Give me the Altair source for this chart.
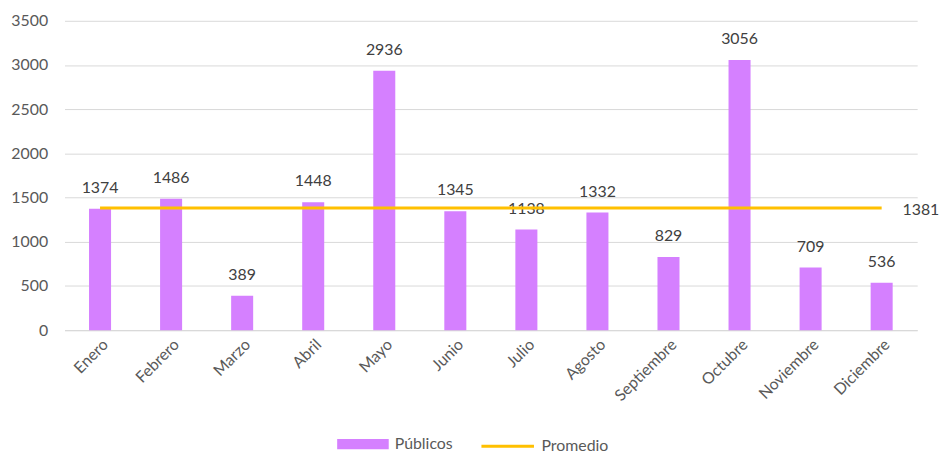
import altair as alt
import pandas as pd

months = ["Enero", "Febrero", "Marzo", "Abril", "Mayo", "Junio", "Julio",
          "Agosto", "Septiembre", "Octubre", "Noviembre", "Diciembre"]
publicos = [1374, 1486, 389, 1448, 2936, 1345, 1138, 1332, 829, 3056, 709, 536]
promedio = [1381, 1381, 1381, 1381, 1381, 1381, 1381, 1381, 1381, 1381, 1381, 1381]
y_ticks = [0, 500, 1000, 1500, 2000, 2500, 3000, 3500]

df = pd.DataFrame({
    "Mes": months,
    "Publicos": publicos,
    "Promedio": promedio,
    "sb": ["Públicos"] * len(months),
    "sl": ["Promedio"] * len(months),
})
last = df.iloc[[-1]]

FONT = "Lato"
FS = 16

x_axis = alt.Axis(labelAngle=-45, ticks=False, grid=False,
                  domainColor="#D9D9D9", domainWidth=1,
                  labelColor="#595959", labelFontSize=FS, labelFont=FONT,
                  labelPadding=6, title=None)
y_axis = alt.Axis(values=y_ticks, format="d", domain=False, ticks=False,
                  gridColor="#D9D9D9", gridWidth=1,
                  labelColor="#595959", labelFontSize=FS, labelFont=FONT,
                  labelPadding=17, title=None)
xscale = alt.Scale(paddingInner=0.69, paddingOuter=0.345)
yscale = alt.Scale(domain=[0, 3500], nice=False)

x = alt.X("Mes:N", sort=months, title=None, scale=xscale, axis=x_axis)

bars = alt.Chart(df).mark_bar().encode(
    x=x,
    y=alt.Y("Publicos:Q", scale=yscale, title=None, axis=y_axis),
    color=alt.Color("sb:N", scale=alt.Scale(domain=["Públicos"], range=["#D580FF"]),
                    legend=alt.Legend(title=None, orient="none", legendX=275, legendY=401,
                                      symbolType="M-1,-0.2H1V0.2H-1Z", symbolSize=2704,
                                      symbolStrokeWidth=0, labelOffset=6, padding=0,
                                      labelFontSize=FS, labelFont=FONT, labelColor="#595959")),
)

bar_labels = alt.Chart(df).mark_text(baseline="middle", dy=-21, fontSize=FS,
                                     font=FONT, color="#404040").encode(
    x=x,
    y=alt.Y("Publicos:Q", scale=yscale, title=None, axis=y_axis),
    text=alt.Text("Publicos:Q"),
)

line = alt.Chart(df).mark_line(strokeWidth=3).encode(
    x=x,
    y=alt.Y("Promedio:Q", scale=yscale, title=None, axis=y_axis),
    color=alt.Color("sl:N", scale=alt.Scale(domain=["Promedio"], range=["#FFC000"]),
                    legend=alt.Legend(title=None, orient="none", legendX=419, legendY=401,
                                      symbolSize=2809, symbolStrokeWidth=3,
                                      labelOffset=6, padding=0,
                                      labelFontSize=FS, labelFont=FONT, labelColor="#595959")),
)

avg_label = alt.Chart(last).mark_text(align="left", baseline="middle", dx=21, dy=2,
                                      fontSize=FS, font=FONT, color="#404040").encode(
    x=x,
    y=alt.Y("Promedio:Q", scale=yscale, title=None, axis=y_axis),
    text=alt.Text("Promedio:Q"),
)

chart = alt.layer(bars, bar_labels, line, avg_label).resolve_scale(
    color="independent"
).resolve_legend(color="independent").properties(
    width=860, height=312,
    autosize=alt.AutoSizeParams(type="none"),
    padding={"left": 57, "top": 11, "right": 22, "bottom": 125},
).configure_view(stroke=None)

chart.save("out.html", embed_options={"renderer": "svg", "actions": False})
